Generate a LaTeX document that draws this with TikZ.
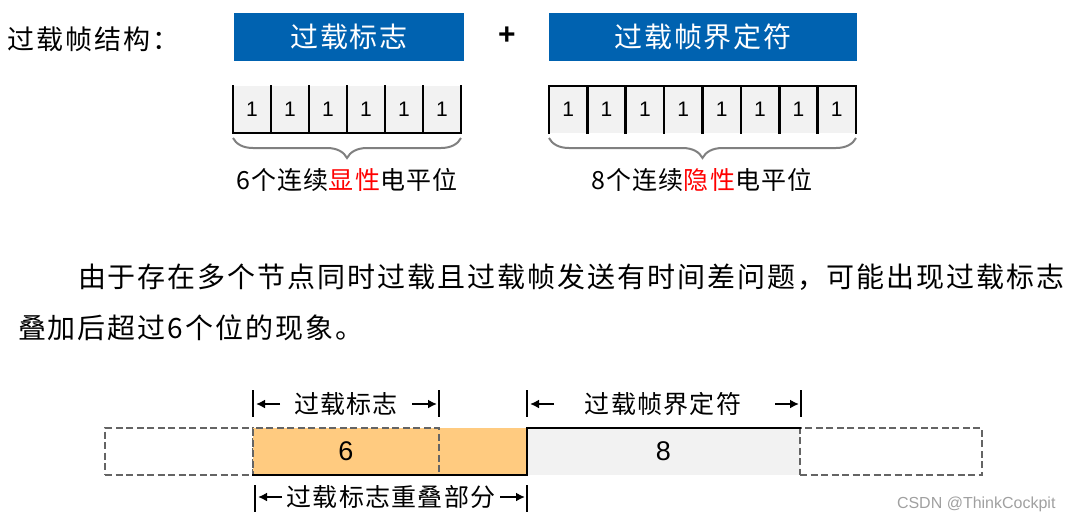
\documentclass[tikz,border=0pt]{standalone}
\usepackage{fontspec}
\setmainfont{Liberation Sans}
\newfontfamily\cjk{Noto Sans CJK SC}
\usetikzlibrary{decorations.pathreplacing,arrows.meta}
\definecolor{hdrblue}{RGB}{0,98,176}
\definecolor{cellgray}{RGB}{242,242,242}
\definecolor{flagorange}{RGB}{255,203,128}
\definecolor{dashgray}{RGB}{100,100,100}
\definecolor{bracegray}{RGB}{128,128,128}
\definecolor{wmgray}{RGB}{160,160,160}
\begin{document}
\begin{tikzpicture}[x=1pt,y=-1pt,
  every node/.style={inner sep=0pt,outer sep=0pt},
  zhT/.style={font=\cjk\fontsize{27}{30}\selectfont\addfontfeature{LetterSpace=8}},
  zhB/.style={font=\cjk\fontsize{28}{30}\selectfont\addfontfeature{LetterSpace=6},text=white},
  zhL/.style={font=\cjk\fontsize{25}{28}\selectfont\addfontfeature{LetterSpace=5}},
  zhP/.style={font=\cjk\fontsize{28}{30}\selectfont\addfontfeature{LetterSpace=7}},
  zhD/.style={font=\cjk\fontsize{25}{28}\selectfont\addfontfeature{LetterSpace=5}},
  bluebox/.style={fill=hdrblue,minimum height=48},
  cell/.style={fill=cellgray,minimum width=38,minimum height=47,font=\fontsize{21}{21}\selectfont},
  cellw/.style={fill=cellgray,minimum width=38.375,minimum height=47,font=\fontsize{21}{21}\selectfont},
  bitline/.style={line width=2.6pt,line join=miter,line cap=rect},
  bracestyle/.style={draw=bracegray,line width=2pt,decorate,decoration={brace,mirror,amplitude=20pt}},
  dashbox/.style={draw=dashgray,line width=2pt,dash pattern=on 7pt off 3.5pt,minimum height=47},
  dimbar/.style={line width=2.6pt},
  dimarrow/.style={line width=2.2pt,-{Latex[length=9pt,width=9pt]}},
  bigdigit/.style={font=\fontsize{27}{27}\selectfont}
]
\useasboundingbox (0,0) rectangle (1077,523);

% title row
\node[zhT,anchor=west] (title) at (7,39) {过载帧结构：};
\node[bluebox,minimum width=230,zhB] (flag) at (349,37) {过载标志};
\node[font=\bfseries\fontsize{30}{30}\selectfont] (plus) at (507,36) {+};
\node[bluebox,minimum width=308,zhB] (delim) at (703,37) {过载帧界定符};

% 6 dominant bits
\foreach \i in {1,...,6} \node[cell] (b\i) at ({233+38*(\i-0.5)},109.5) {1};
\foreach \i in {1,...,6} \draw[bitline] (b\i.north west) -- (b\i.south west) -- (b\i.south east) -- (b\i.north east);
% 8 recessive bits
\foreach \i in {1,...,8} \node[cellw] (c\i) at ({549+38.375*(\i-0.5)},109.5) {1};
\foreach \i in {1,...,8} \draw[bitline] (c\i.south west) -- (c\i.north west) -- (c\i.north east) -- (c\i.south east);

% braces
\draw[bracestyle] ([yshift=-5pt]b1.south west) -- ([yshift=-5pt]b6.south east);
\draw[bracestyle] ([yshift=-5pt]c1.south west) -- ([yshift=-5pt]c8.south east);
\node[zhL] (lab6) at (347,180) {6个连续\textcolor{red}{显性}电平位};
\node[zhL] (lab8) at (702,180) {8个连续\textcolor{red}{隐性}电平位};

% paragraph
\node[zhP,anchor=west] (p1) at (78,277) {由于存在多个节点同时过载且过载帧发送有时间差问题，可能出现过载标志};
\node[zhP,anchor=west] (p2) at (18,328) {叠加后超过6个位的现象。};

% bottom timing diagram
\node[dashbox,minimum width=148] (dl) at (179,451.5) {};
\node[fill=flagorange,minimum width=274,minimum height=47] (ov) at (390,451.5) {};
\node[dashbox,minimum width=186,bigdigit] (of) at (346,451.5) {6};
\node[fill=cellgray,minimum width=273,minimum height=47,bigdigit] (dlm) at (663.5,451.5) {8};
\node[dashbox,minimum width=182] (dr) at (891,451.5) {};
\draw[bitline] (ov.south west) -- (ov.south east) -- (ov.north east) -- (dlm.north east);

% dimension: overload flag
\coordinate (f1t) at (253,390); \coordinate (f1b) at (253,417);
\coordinate (f2t) at (439,390); \coordinate (f2b) at (439,417);
\coordinate (fa1) at (280,404); \coordinate (fa1e) at (256,404);
\coordinate (fa2) at (412,404); \coordinate (fa2e) at (437,404);
\draw[dimbar] (f1t) -- (f1b);
\draw[dimbar] (f2t) -- (f2b);
\draw[dimarrow] (fa1) -- (fa1e);
\draw[dimarrow] (fa2) -- (fa2e);
\node[zhD] (dimflag) at (346,404) {过载标志};

% dimension: delimiter
\coordinate (g1t) at (527,390); \coordinate (g1b) at (527,417);
\coordinate (g2t) at (801,390); \coordinate (g2b) at (801,417);
\coordinate (ga1) at (554,404); \coordinate (ga1e) at (530,404);
\coordinate (ga2) at (775,404); \coordinate (ga2e) at (799,404);
\draw[dimbar] (g1t) -- (g1b);
\draw[dimbar] (g2t) -- (g2b);
\draw[dimarrow] (ga1) -- (ga1e);
\draw[dimarrow] (ga2) -- (ga2e);
\node[zhD] (dimdelim) at (663,404) {过载帧界定符};

% dimension: overlap
\coordinate (h1t) at (255,485); \coordinate (h1b) at (255,512);
\coordinate (h2t) at (527,485); \coordinate (h2b) at (527,512);
\coordinate (ha1) at (282,497); \coordinate (ha1e) at (258,497);
\coordinate (ha2) at (500,497); \coordinate (ha2e) at (525,497);
\draw[dimbar] (h1t) -- (h1b);
\draw[dimbar] (h2t) -- (h2b);
\draw[dimarrow] (ha1) -- (ha1e);
\draw[dimarrow] (ha2) -- (ha2e);
\node[zhD] (dimov) at (391,497) {过载标志重叠部分};

% watermark
\node[anchor=west,text=wmgray,font=\fontsize{16}{16}\selectfont] (wm) at (897,504) {CSDN @ThinkCockpit};
\end{tikzpicture}
\end{document}
